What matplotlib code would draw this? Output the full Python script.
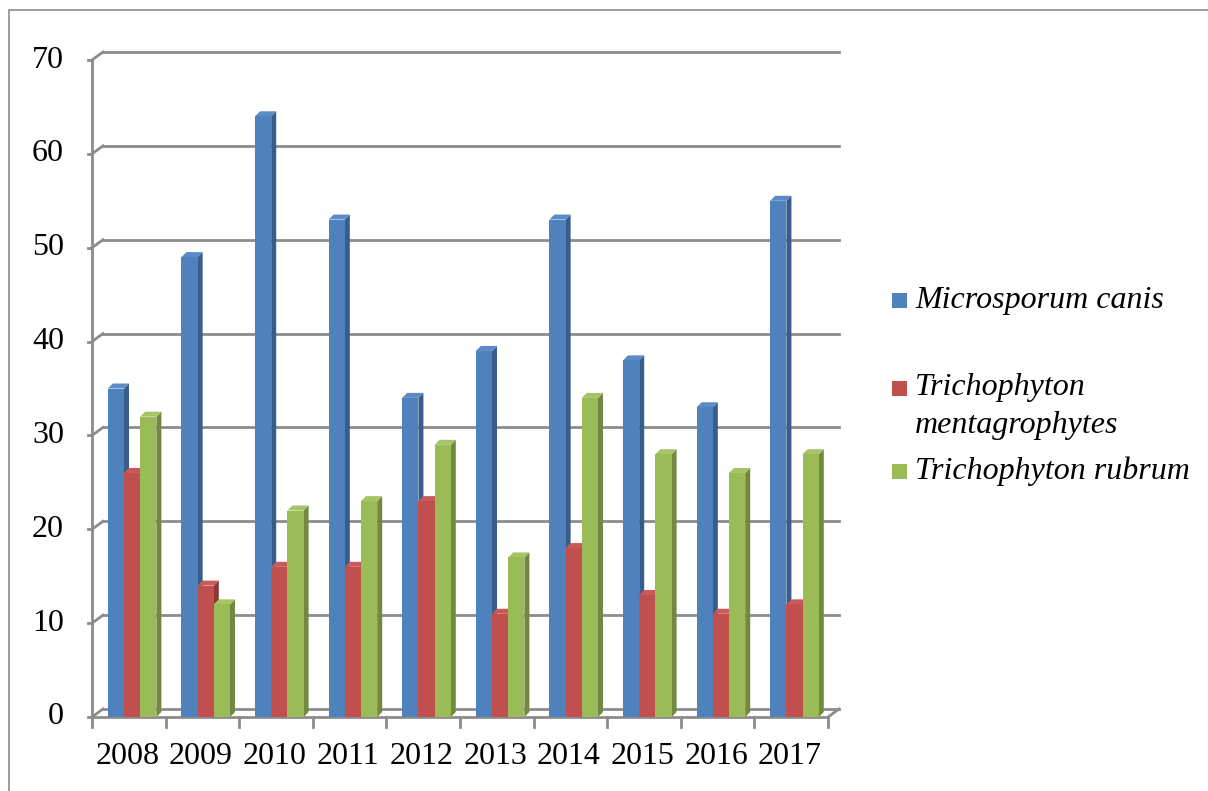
import matplotlib
matplotlib.use('Agg')
import matplotlib.pyplot as plt
from matplotlib.patches import Polygon, Rectangle

plt.rcParams['font.family'] = ['Liberation Serif', 'DejaVu Serif']

# Дані
years = ['2008', '2009', '2010', '2011', '2012', '2013', '2014', '2015', '2016', '2017']
series_names = ['Microsporum canis', 'Trichophyton\nmentagrophytes', 'Trichophyton rubrum']
m_canis = [35, 49, 64, 53, 34, 39, 53, 38, 33, 55]
t_mentagrophytes = [26, 14, 16, 16, 23, 11, 18, 13, 11, 12]
t_rubrum = [32, 12, 22, 23, 29, 17, 34, 28, 26, 28]
y_ticks = [0, 10, 20, 30, 40, 50, 60, 70]

front_colors = ['#4F81BD', '#C0504D', '#9BBB59']
side_colors = ['#385D8A', '#8C3836', '#71893F']
top_colors = ['#5B8BC6', '#C95A57', '#A5C466']

W, H = 1208, 791
fig = plt.figure(figsize=(W / 100, H / 100), dpi=100)

# рамка області діаграми
fig.patches.append(Rectangle((9 / W, -0.1), 1.2, 1.1 - 10 / H, transform=fig.transFigure,
                             fill=False, edgecolor='#8c8c8c', linewidth=1.2))

ax_left, ax_right, ax_top, ax_bottom = 92, 828, 60, 717
ax = fig.add_axes([ax_left / W, 1 - ax_bottom / H, (ax_right - ax_left) / W, (ax_bottom - ax_top) / H])
ax.set_xlim(0, len(years))
ax.set_ylim(0, 70)
ax.axis('off')

# пікселі -> одиниці даних
px_x = (ax_right - ax_left) / len(years)
px_y = (ax_bottom - ax_top) / 70.0
Dx, Dy = 11 / px_x, 8 / px_y      # глибина стінок
dx, dy = 5 / px_x, 5 / px_y       # глибина стовпчиків
grid_col = '#8c8c8c'
n = len(years)

# сітка на задній стінці
for v in y_ticks:
    ax.plot([Dx, n + Dx], [v + Dy, v + Dy], color=grid_col, lw=2, clip_on=False, zorder=1)
    ax.plot([0, Dx], [v, v + Dy], color=grid_col, lw=2, clip_on=False, zorder=1)
    ax.plot([-4 / px_x, 0], [v, v], color=grid_col, lw=2, clip_on=False, zorder=1)
    ax.text(-28 / px_x, v, str(v), ha='right', va='center', fontsize=23)

# вісь Y та підлога
ax.plot([0, 0], [0, 70], color=grid_col, lw=2, clip_on=False, zorder=1)
ax.plot([0, n], [0, 0], color=grid_col, lw=2, clip_on=False, zorder=1)
ax.plot([n, n + Dx], [0, Dy], color=grid_col, lw=2, clip_on=False, zorder=1)
for i in range(n + 1):
    ax.plot([i, i], [0, -10 / px_y], color=grid_col, lw=2, clip_on=False, zorder=1)
for i, yr in enumerate(years):
    ax.text(i + 0.48, -40 / px_y, yr, ha='center', va='center', fontsize=23)

# 3D стовпчики
bw = 0.22
data = [m_canis, t_mentagrophytes, t_rubrum]
z = 3
for i in range(n):
    for k, vals in enumerate(data):
        x0 = i + 0.215 + k * bw
        x1 = x0 + bw
        v = vals[i]
        side = [(x1, 0), (x1 + dx, dy), (x1 + dx, v + dy), (x1, v)]
        top = [(x0, v), (x0 + dx, v + dy), (x1 + dx, v + dy), (x1, v)]
        ax.add_patch(Polygon(side, closed=True, facecolor=side_colors[k], edgecolor='none', zorder=z, clip_on=False))
        ax.add_patch(Polygon(top, closed=True, facecolor=top_colors[k], edgecolor='none', zorder=z, clip_on=False))
        ax.add_patch(Rectangle((x0, 0), bw, v, facecolor=front_colors[k], edgecolor='none', zorder=z + 0.5, clip_on=False))
        z += 1

# легенда
leg_y = [301, 388, 471]
for k, name in enumerate(series_names):
    yc = 1 - leg_y[k] / H
    fig.patches.append(Rectangle((892 / W, yc - 7.5 / H), 15 / W, 15 / H, transform=fig.transFigure,
                                 facecolor=front_colors[k], edgecolor='none'))
    lines = name.split('\n')
    fig.text(915 / W, yc, lines[0], ha='left', va='center', fontsize=23, style='italic')
    if len(lines) > 1:
        fig.text(915 / W, yc - 37 / H, lines[1], ha='left', va='center', fontsize=23, style='italic')

fig.savefig('out.png', dpi=100, facecolor='white')
